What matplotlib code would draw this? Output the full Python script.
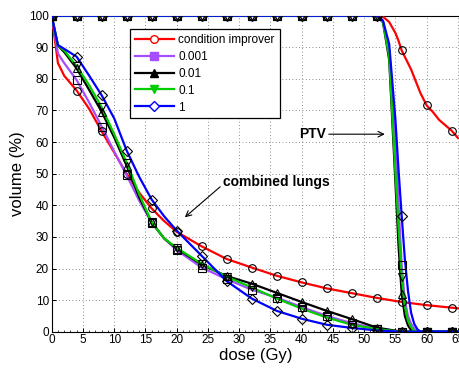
import matplotlib
matplotlib.use("Agg")
import matplotlib.pyplot as plt
from matplotlib.lines import Line2D
import numpy as np

plt.rcParams['font.family'] = ['Liberation Sans', 'DejaVu Sans']

series_names = ["condition improver", "0.001", "0.01", "0.1", "1"]
colors = ["#ff0000", "#a64dff", "#000000", "#00cc00", "#0000ff"]
markers = ["o", "s", "^", "v", "D"]

# lung DVH
lung_dose = [0, 1, 2, 4, 6, 8, 10, 12, 14, 16, 18, 20, 24, 28, 32, 36, 40, 44, 48, 52, 56, 60, 64, 65]
lung_red = [100, 85, 81, 76.3, 70.5, 63.4, 56.7, 50, 44, 39, 35, 31.6, 27, 23, 20.3, 17.7, 15.6, 13.7, 12.2, 10.7, 9.4, 8.4, 7.6, 7.4]
lung_purple = [100, 88, 85, 79.6, 72.5, 64.9, 57, 49.5, 41.5, 34.5, 29.5, 25.8, 20.3, 16.6, 13.3, 10.8, 7.8, 5.0, 2.7, 1.0, 0, 0, 0, 0]
lung_black = [100, 90.5, 88.5, 83.3, 76.5, 69.6, 61.5, 52.5, 42.5, 34.6, 29.5, 26.3, 21.2, 17.6, 15.2, 12.3, 9.4, 6.6, 4.0, 1.3, 0, 0, 0, 0]
lung_green = [100, 90.5, 89, 84, 78, 71, 62.5, 53.5, 43.5, 34.6, 29.5, 26.5, 21.5, 17.4, 14.0, 10.5, 7.3, 4.5, 2.2, 0.8, 0, 0, 0, 0]
lung_blue = [100, 90.7, 89.5, 87, 81, 74.8, 67.5, 57.3, 49, 41.8, 36.5, 32, 24, 16, 10.5, 6.6, 4.1, 2.2, 1.2, 0.4, 0, 0, 0, 0]

# PTV DVH
ptv_dose = [0, 4, 8, 12, 16, 20, 24, 28, 32, 36, 40, 44, 48, 52, 53, 54, 55, 55.5, 56, 56.5, 57, 57.5, 58, 58.5, 59, 60, 61, 62, 63, 64, 65]
ptv_red = [100]*14 + [99.7, 98, 94.5, 92, 89, 87, 85, 83, 80.5, 78, 75.5, 71.6, 69.5, 67, 65.3, 63.6, 61.3]
ptv_purple = [100]*14 + [98, 89, 62, 40, 21, 10, 5, 2.5, 1, 0, 0, 0, 0, 0, 0, 0, 0]
ptv_black = [100]*14 + [98, 86, 47, 27, 12, 5, 2, 0.5, 0, 0, 0, 0, 0, 0, 0, 0, 0]
ptv_green = [100]*14 + [98, 87, 50, 33, 17.2, 8, 3.5, 1.5, 0.3, 0, 0, 0, 0, 0, 0, 0, 0]
ptv_blue = [100]*14 + [98.5, 91, 67, 51, 36.6, 23, 13, 6, 2.5, 0.8, 0, 0, 0, 0, 0, 0, 0]

lungs = [lung_red, lung_purple, lung_black, lung_green, lung_blue]
ptvs = [ptv_red, ptv_purple, ptv_black, ptv_green, ptv_blue]

fig = plt.figure(figsize=(4.6, 3.68), dpi=100)
ax = fig.add_axes([51.7/460, 1-331.7/368, 1-51.7/460, (331.7-15.7)/368])

ld = np.array(lung_dose, dtype=float)
pd_ = np.array(ptv_dose, dtype=float)
lmask = (ld % 4 == 0)
pmask = (pd_ % 4 == 0)

for c, m, lv, pv in zip(colors, markers, lungs, ptvs):
    lv = np.array(lv, dtype=float); pv = np.array(pv, dtype=float)
    ax.plot(ld, lv, color=c, lw=1.6, zorder=3)
    ax.plot(pd_, pv, color=c, lw=1.6, zorder=3)
for c, m, lv, pv in zip(colors, markers, lungs, ptvs):
    lv = np.array(lv, dtype=float); pv = np.array(pv, dtype=float)
    ax.plot(ld[lmask], lv[lmask], ls='none', marker=m, ms=5.5, mfc='none', mec='k', mew=0.8, zorder=4)
    ax.plot(pd_[pmask], pv[pmask], ls='none', marker=m, ms=5.5, mfc='none', mec='k', mew=0.8, zorder=4)

ax.set_xlim(0, (460-51.7)/6.25)
ax.set_ylim(0, 100)
ax.set_xticks(np.arange(0, 66, 5))
ax.set_yticks(np.arange(0, 101, 10))
ax.set_xticks(np.arange(0, 66, 1), minor=True)
ax.tick_params(direction='in', labelsize=8.5, length=3, width=0.7, pad=2)
ax.tick_params(which='minor', direction='in', length=1.5, width=0.5)
ax.grid(True, which='major', ls=(0, (1, 3)), color='#666666', lw=0.6)
ax.spines['right'].set_visible(False)
for s in ['left', 'bottom', 'top']:
    ax.spines[s].set_linewidth(0.8)

ax.set_xlabel('dose (Gy)', fontsize=12, labelpad=1)
ax.set_ylabel('volume (%)', fontsize=12, labelpad=3)

handles = [Line2D([0], [0], color=c, lw=1.6, marker=m, ms=5.5, mfc='white' if m in ('o', 'D') else c, mec=c)
           for c, m in zip(colors, markers)]
leg = ax.legend(handles, series_names, loc='upper left', bbox_to_anchor=((130-51.7)/408.3, 1-(29-15.7)/316),
                fontsize=8.5, frameon=True, fancybox=False, edgecolor='k', framealpha=1,
                handlelength=3.3, borderpad=0.4, labelspacing=0.42, handletextpad=0.4, borderaxespad=0)
leg.get_frame().set_linewidth(0.9)
leg.set_zorder(10)

ax.annotate('combined lungs', xy=(21.3, 36.2), xytext=(27.4, 47.5), fontsize=10, fontweight='bold',
            va='center', ha='left',
            arrowprops=dict(arrowstyle='->', color='k', lw=0.8, shrinkA=0, shrinkB=0,
                            relpos=(0.0, 0.3)))
ax.annotate('PTV', xy=(53.3, 62.5), xytext=(43.9, 62.5), fontsize=10, fontweight='bold',
            va='center', ha='right',
            arrowprops=dict(arrowstyle='->', color='k', lw=0.8, shrinkA=0, shrinkB=0,
                            relpos=(1.0, 0.5)))

fig.savefig('out.png', dpi=100)
